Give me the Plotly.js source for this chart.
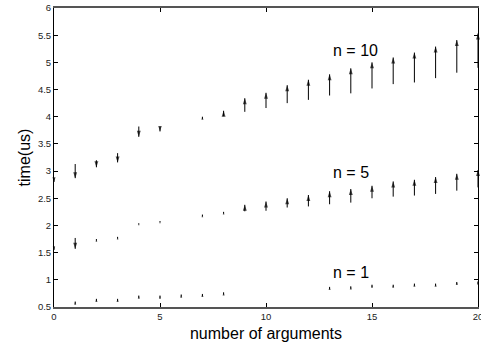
<!DOCTYPE html>
<html>
<head>
<meta charset="utf-8">
<script src="https://cdn.plot.ly/plotly-3.0.1.min.js"></script>
<style>html,body{margin:0;padding:0;background:#fff;}#chart{width:481px;height:345px;}</style>
</head>
<body>
<div id="chart"></div>
<script>
// number of arguments
const args = [0,1,2,3,4,5,6,7,8,9,10,11,12,13,14,15,16,17,18,19,20];
// n = 10 : vector tail (start) and head (end), time in us
const n10Start = [2.87,3.13,3.20,3.33,3.82,3.81,null,3.96,4.01,4.09,4.16,4.25,4.31,4.39,4.43,4.52,4.60,4.63,4.71,4.81,4.90];
const n10End   = [2.80,2.87,3.07,3.16,3.63,3.73,null,4.00,4.11,4.34,4.44,4.58,4.68,4.78,4.89,5.00,5.09,5.18,5.29,5.41,5.53];
// n = 5
const n5Start = [1.60,1.77,1.72,1.76,2.02,2.06,null,2.17,2.22,2.26,2.27,2.33,2.35,2.39,2.42,2.50,2.53,2.55,2.58,2.64,2.70];
const n5End   = [1.55,1.57,1.75,1.79,2.04,2.08,null,2.20,2.25,2.38,2.44,2.50,2.56,2.63,2.67,2.73,2.81,2.84,2.89,2.95,3.02];
// n = 1
const n1Start = [null,0.56,0.61,0.61,0.67,0.67,0.69,0.70,0.73,null,null,null,null,0.83,0.84,0.87,0.87,0.89,0.89,0.92,0.93];
const n1End   = [null,0.60,0.65,0.65,0.71,0.71,0.73,0.74,0.77,null,null,null,null,0.87,0.88,0.91,0.91,0.93,0.93,0.96,0.97];
// series labels
const seriesLabels = ['n = 10','n = 5','n = 1'];
const yTicks = [0.5,1,1.5,2,2.5,3,3.5,4,4.5,5,5.5,6];
const xTicks = [0,5,10,15,20];

const H = 345, MT = 8, MB = 38;
const Y_RANGE = [0.5, 6];
const pxPerUnit = (H - MT - MB) / (Y_RANGE[1] - Y_RANGE[0]);
const HEAD = 6.3;

function vectorTrace(starts, ends){
  const x = [], y = [], sizes = [];
  for(let i=0;i<args.length;i++){
    if(starts[i]==null || ends[i]==null) continue;
    const lenPx = Math.abs(ends[i]-starts[i]) * pxPerUnit;
    x.push(args[i], args[i], null);
    y.push(starts[i], ends[i], null);
    sizes.push(0, Math.min(HEAD, lenPx/0.95 + 1), 0);
  }
  return {
    type:'scatter', mode:'lines+markers', x:x, y:y,
    connectgaps:false, cliponaxis:false,
    line:{color:'#000', width:1, backoff:0},
    marker:{symbol:'arrow', angleref:'previous', size:sizes, color:'#000',
            line:{width:0}},
    hoverinfo:'skip', showlegend:false
  };
}

const traces = [
  vectorTrace(n10Start, n10End),
  vectorTrace(n5Start, n5End),
  vectorTrace(n1Start, n1End)
];

const labelPos = [[13.05,5.21],[13.05,2.97],[13.05,1.13]];
const annotations = seriesLabels.map((t,i)=>({
  x:labelPos[i][0], y:labelPos[i][1], xref:'x', yref:'y',
  text:t, showarrow:false, xanchor:'left', yanchor:'middle',
  font:{family:'Liberation Sans, Arial, sans-serif', size:16, color:'#000'}
}));

const layout = {
  width:481, height:H,
  margin:{l:54, r:3, t:MT, b:MB},
  paper_bgcolor:'#fff', plot_bgcolor:'#fff',
  showlegend:false,
  font:{family:'Liberation Sans, Arial, sans-serif', color:'#222'},
  xaxis:{
    range:[0,20], tickvals:xTicks, ticktext:xTicks.map(String),
    ticks:'inside', ticklen:4, tickcolor:'#000', mirror:'ticks',
    showline:true, linecolor:'#555', linewidth:2,
    showgrid:false, zeroline:false, ticklabeloverflow:'allow',
    tickfont:{size:9.5, color:'#222'},
    title:{text:'number of arguments', font:{size:16, color:'#000'}, standoff:6}
  },
  yaxis:{
    range:Y_RANGE, tickvals:yTicks, ticktext:yTicks.map(String),
    ticks:'inside', ticklen:4, tickcolor:'#000', mirror:'ticks',
    showline:true, linecolor:'#000', linewidth:1,
    showgrid:false, zeroline:false, ticklabeloverflow:'allow',
    tickfont:{size:9.5, color:'#222'},
    title:{text:'time(us)', font:{size:16, color:'#000'}, standoff:3}
  },
  annotations: annotations
};

Plotly.newPlot('chart',traces,layout,{staticPlot:true, displayModeBar:false});
</script>
</body>
</html>
